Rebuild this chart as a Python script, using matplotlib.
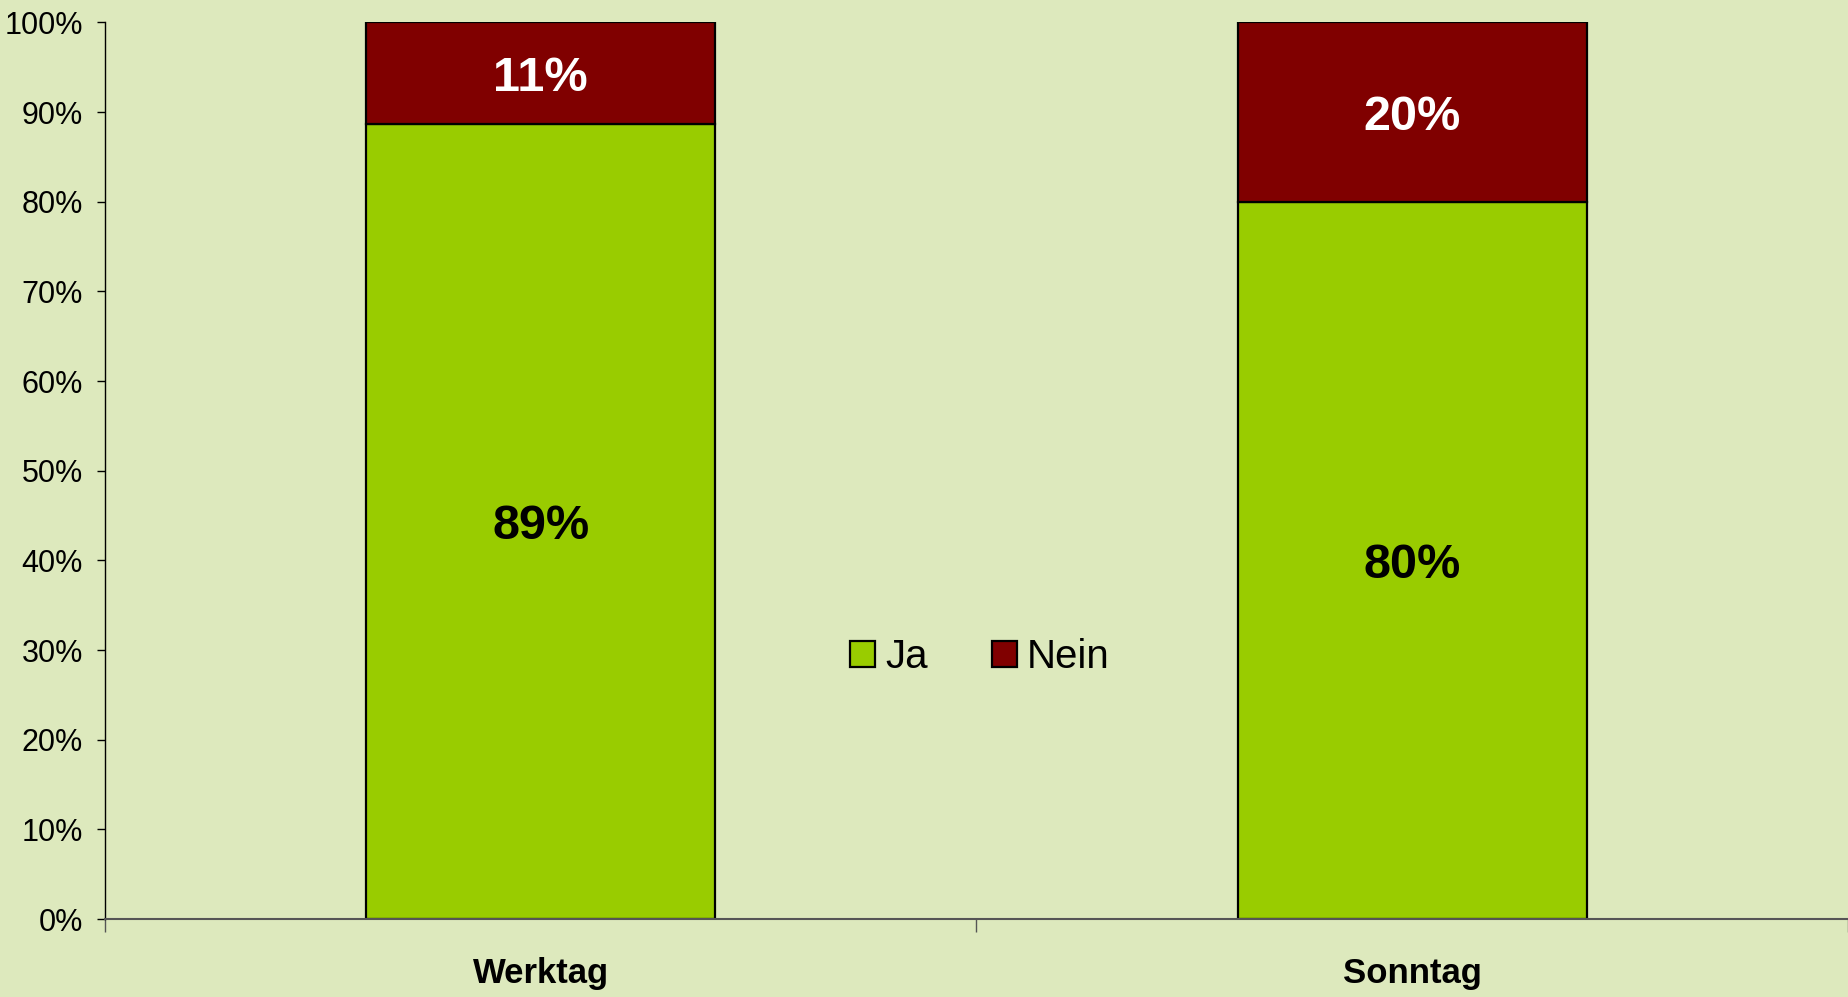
import numpy as np
import matplotlib.pyplot as plt
from matplotlib.ticker import FixedLocator, PercentFormatter

plt.rcParams['font.family'] = ['Liberation Sans', 'DejaVu Sans']

# --- Data ---
categories = ["Werktag", "Sonntag"]
ja = [88.7, 80.0]
nein = [11.3, 20.0]
series_names = ["Ja", "Nein"]

bg = '#DDE9BD'
green = '#99CC00'
red = '#800000'

fig = plt.figure(figsize=(18.48, 9.97), dpi=100, facecolor=bg)
ax = fig.add_axes([0.0568, 0.0782, 0.9432, 0.8993])
ax.set_facecolor(bg)

x = np.arange(len(categories))
ax.bar(x, ja, width=0.4, color=green, edgecolor='black', linewidth=1.6,
       label=series_names[0])
ax.bar(x, nein, width=0.4, bottom=ja, color=red, edgecolor='black',
       linewidth=1.6, label=series_names[1])

# value labels in the middle of each segment
for i in range(len(categories)):
    ax.text(x[i], ja[i] / 2, f"{ja[i]:.0f}%", ha='center', va='center_baseline',
            fontsize=35, fontweight='bold', color='black')
    ax.text(x[i], ja[i] + nein[i] / 2, f"{nein[i]:.0f}%", ha='center',
            va='center_baseline', fontsize=35, fontweight='bold', color='white')

ax.set_xlim(-0.5, 1.5)
ax.set_ylim(0, 100)
ax.set_yticks(np.arange(0, 101, 10))
ax.yaxis.set_major_formatter(PercentFormatter(decimals=0))
ax.tick_params(axis='y', direction='out', length=6, width=1, labelsize=22, pad=10)

ax.set_xticks(x)
ax.set_xticklabels(categories, fontsize=25, fontweight='bold')
ax.tick_params(axis='x', which='major', length=0, pad=27)
ax.xaxis.set_minor_locator(FixedLocator([-0.5, 0.5, 1.5]))
ax.tick_params(axis='x', which='minor', direction='out', length=9, width=1,
               color='#555555')

for s in ['top', 'right']:
    ax.spines[s].set_visible(False)
ax.spines['left'].set_linewidth(1)
ax.spines['bottom'].set_color('#555555')
ax.spines['bottom'].set_linewidth(1.5)

ax.legend(loc='center', bbox_to_anchor=(0.502, 0.292), ncol=2,
          frameon=False, fontsize=29, handlelength=0.62, handleheight=0.62,
          columnspacing=1.6, handletextpad=0.25)

fig.savefig("out.png", dpi=100, facecolor=bg)
